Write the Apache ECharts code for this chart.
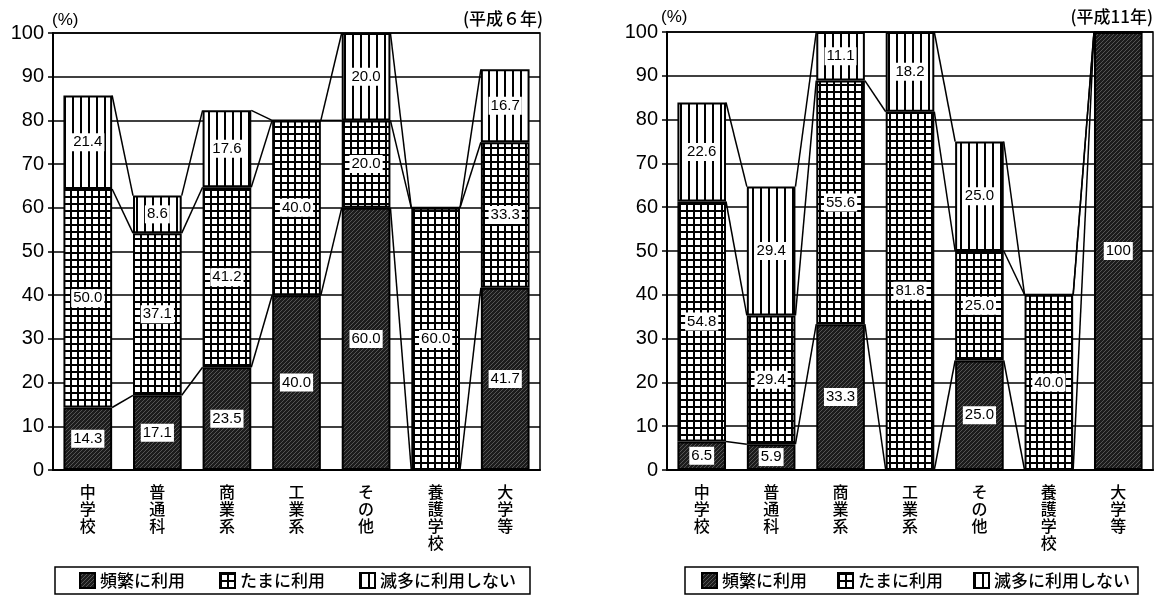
<!DOCTYPE html>
<html>
<head>
<meta charset="utf-8">
<script src="https://cdn.jsdelivr.net/npm/echarts@6/dist/echarts.min.js"></script>
<style>
  html, body { margin: 0; padding: 0; background: #fff; }
  #main { width: 1166px; height: 605px; }
</style>
</head>
<body>
<div id="main"></div>
<script>
  // categories (vertical text under the bars)
  var categories = ['中学校', '普通科', '商業系', '工業系', 'その他', '養護学校', '大学等'];
  var seriesNames = ['頻繁に利用', 'たまに利用', '滅多に利用しない'];
  var yTicks = [0, 10, 20, 30, 40, 50, 60, 70, 80, 90, 100];

  // 平成6年
  var h6Often = [14.3, 17.1, 23.5, 40.0, 60.0, 0, 41.7];
  var h6Sometimes = [50.0, 37.1, 41.2, 40.0, 20.0, 60.0, 33.3];
  var h6Rarely = [21.4, 8.6, 17.6, 0, 20.0, 0, 16.7];

  // 平成11年
  var h11Often = [6.5, 5.9, 33.3, 0, 25.0, 0, 100];
  var h11Sometimes = [54.8, 29.4, 55.6, 81.8, 25.0, 40.0, 0];
  var h11Rarely = [22.6, 29.4, 11.1, 18.2, 25.0, 0, 0];

  function makePattern(kind) {
    var c = document.createElement('canvas');
    var ctx = c.getContext('2d');
    if (kind === 'grid') {
      c.width = 7; c.height = 7;
      ctx.fillStyle = '#fff'; ctx.fillRect(0, 0, 7, 7);
      ctx.fillStyle = '#000';
      ctx.fillRect(0, 0, 7, 2);
      ctx.fillRect(0, 0, 2, 7);
    } else if (kind === 'stripe') {
      c.width = 8; c.height = 4;
      ctx.fillStyle = '#fff'; ctx.fillRect(0, 0, 8, 4);
      ctx.fillStyle = '#000';
      ctx.fillRect(0, 0, 2, 4);
    } else {
      c.width = 4; c.height = 4;
      ctx.fillStyle = '#1c1c1c'; ctx.fillRect(0, 0, 4, 4);
      ctx.fillStyle = '#555';
      ctx.fillRect(0, 3, 1, 1);
      ctx.fillRect(1, 2, 1, 1);
      ctx.fillRect(2, 1, 1, 1);
      ctx.fillRect(3, 0, 1, 1);
    }
    return { image: c, repeat: 'repeat' };
  }

  var fills = [makePattern('dark'), makePattern('grid'), makePattern('stripe')];

  function fmt(v) {
    return v === 100 ? '100' : v.toFixed(1);
  }

  function barSeries(name, values, fill, idx) {
    return {
      name: name,
      type: 'bar',
      stack: 'total' + idx,
      xAxisIndex: idx,
      yAxisIndex: idx,
      barWidth: '70%',
      z: 3,
      itemStyle: { color: fill, borderColor: '#000', borderWidth: 2 },
      label: {
        show: true,
        position: 'inside',
        formatter: function (p) { return fmt(p.value); },
        backgroundColor: '#fff',
        color: '#000',
        fontSize: 15,
        fontFamily: 'Liberation Sans',
        padding: [2, 2, 1, 2]
      },
      data: values.map(function (v) {
        return { value: v, label: { show: v > 0 } };
      })
    };
  }

  // lines joining the tops of matching segments of neighbouring bars
  function connectorSeries(often, sometimes, rarely, idx) {
    var data = [];
    for (var i = 0; i < often.length - 1; i++) {
      var a1 = often[i], a2 = a1 + sometimes[i], a3 = a2 + rarely[i];
      var b1 = often[i + 1], b2 = b1 + sometimes[i + 1], b3 = b2 + rarely[i + 1];
      data.push([i, a1, a2, a3, b1, b2, b3]);
    }
    return {
      type: 'custom',
      xAxisIndex: idx,
      yAxisIndex: idx,
      z: 2,
      silent: true,
      encode: { x: 0, y: 1 },
      renderItem: function (params, api) {
        var i = api.value(0);
        var half = api.size([1, 0])[0] * 0.35;
        var children = [];
        for (var k = 1; k <= 3; k++) {
          var p1 = api.coord([i, api.value(k)]);
          var p2 = api.coord([i + 1, api.value(k + 3)]);
          children.push({
            type: 'line',
            shape: { x1: p1[0] + half, y1: p1[1], x2: p2[0] - half, y2: p2[1] },
            style: { stroke: '#000', lineWidth: 1.5 }
          });
        }
        return { type: 'group', children: children };
      },
      data: data
    };
  }

  function xAxisOf(idx) {
    return {
      type: 'category',
      gridIndex: idx,
      data: categories,
      axisLine: { lineStyle: { color: '#000', width: 2 } },
      axisTick: { inside: true, length: 9, lineStyle: { color: '#000', width: 1.5 } },
      axisLabel: {
        interval: 0,
        color: '#000',
        fontSize: 16,
        fontWeight: 500,
        lineHeight: 17,
        margin: 13,
        fontFamily: 'Noto Sans CJK JP',
        formatter: function (v) { return v.split('').join('\n'); }
      }
    };
  }

  function yAxisOf(idx) {
    return {
      type: 'value',
      gridIndex: idx,
      min: yTicks[0],
      max: yTicks[yTicks.length - 1],
      interval: yTicks[1] - yTicks[0],
      axisLine: { show: true, lineStyle: { color: '#000', width: 2 } },
      axisTick: { show: true, length: 5, lineStyle: { color: '#000', width: 1.5 } },
      splitLine: { lineStyle: { color: '#000', width: 1.5 } },
      axisLabel: { color: '#000', fontSize: 20, margin: 9, fontFamily: 'Liberation Sans' }
    };
  }

  function legendOf(left, gap, pad) {
    return {
      left: left,
      top: 567,
      data: seriesNames,
      selectedMode: false,
      icon: 'rect',
      itemWidth: 15,
      itemHeight: 15,
      itemGap: gap,
      borderColor: '#000',
      borderWidth: 1.5,
      borderRadius: 0,
      padding: pad,
      textStyle: { color: '#000', fontSize: 17, fontWeight: 500, fontFamily: 'Noto Sans CJK JP' }
    };
  }

  var titleFont = { fontSize: 17, fontWeight: 500, color: '#000', fontFamily: 'Noto Sans CJK JP' };
  var unitFont = { fontSize: 17, fontWeight: 'normal', color: '#000', fontFamily: 'Liberation Sans' };

  var myChart = echarts.init(document.getElementById('main'));
  var option = {
    animation: false,
    backgroundColor: '#fff',
    title: [
      { text: '(%)', left: 47, top: 7, textStyle: unitFont },
      { text: '(平成６年)', right: 618, top: 5, textStyle: titleFont },
      { text: '(%)', left: 656, top: 4, textStyle: unitFont },
      { text: '(平成11年)', right: 8, top: 3, textStyle: titleFont }
    ],
    legend: [
      legendOf(55, 34, [5, 14, 5, 24]),
      legendOf(685, 30, [5, 8, 5, 16])
    ],
    grid: [
      { left: 53, top: 33, width: 487, height: 437, show: true, borderColor: '#000', borderWidth: 1.5 },
      { left: 667, top: 32, width: 486, height: 438, show: true, borderColor: '#000', borderWidth: 1.5 }
    ],
    xAxis: [xAxisOf(0), xAxisOf(1)],
    yAxis: [yAxisOf(0), yAxisOf(1)],
    series: [
      barSeries(seriesNames[0], h6Often, fills[0], 0),
      barSeries(seriesNames[1], h6Sometimes, fills[1], 0),
      barSeries(seriesNames[2], h6Rarely, fills[2], 0),
      connectorSeries(h6Often, h6Sometimes, h6Rarely, 0),
      barSeries(seriesNames[0], h11Often, fills[0], 1),
      barSeries(seriesNames[1], h11Sometimes, fills[1], 1),
      barSeries(seriesNames[2], h11Rarely, fills[2], 1),
      connectorSeries(h11Often, h11Sometimes, h11Rarely, 1)
    ]
  };
  myChart.setOption(option);
</script>
</body>
</html>
